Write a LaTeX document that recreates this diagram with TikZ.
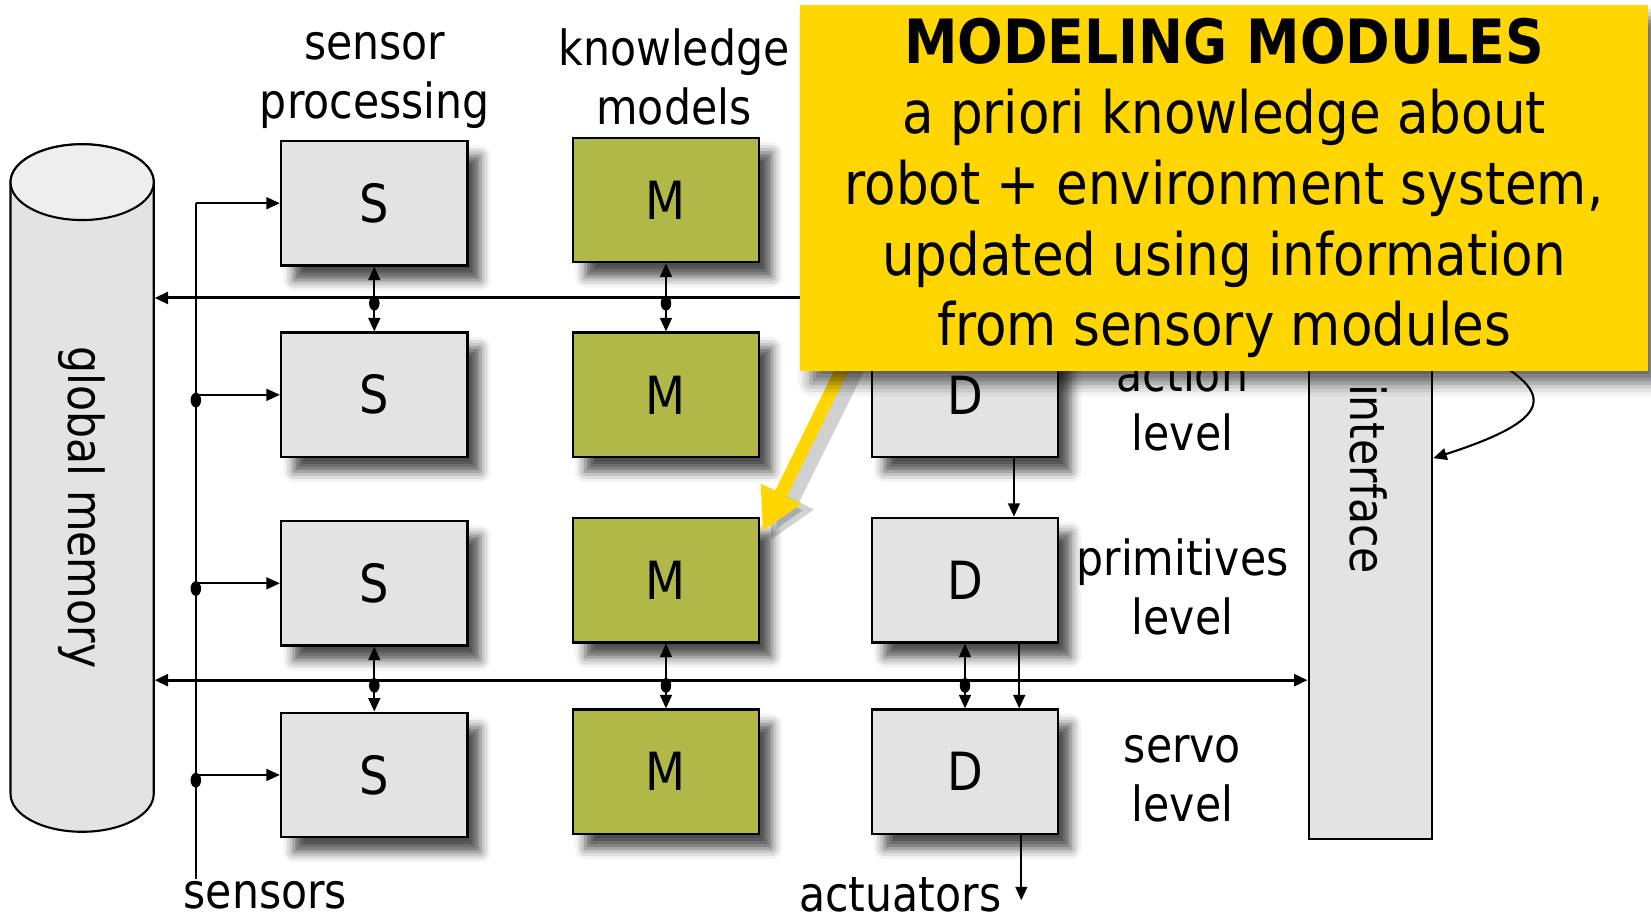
\documentclass[tikz,border=0pt]{standalone}
\usepackage{fontspec}
\setmainfont{DejaVu Sans}[FakeStretch=0.88]
\usetikzlibrary{arrows.meta,shadows.blur}
\definecolor{boxgray}{RGB}{227,227,227}
\definecolor{endgray}{RGB}{238,238,238}
\definecolor{modelgreen}{RGB}{176,185,72}
\definecolor{notegold}{RGB}{255,214,0}

\begin{document}
\begin{tikzpicture}[x=0.25pt,y=-0.25pt,
  >={Triangle[length=3.2pt,width=2.8pt]},
  unit/.style={draw,line width=0.6pt,fill=boxgray,minimum width=44.25pt,minimum height=29.5pt,inner sep=0pt,
    font=\fontsize{12.5}{15}\selectfont,
    blur shadow={shadow xshift=3pt,shadow yshift=-3.5pt,shadow blur radius=2.5pt,shadow opacity=70}},
  model/.style={unit,fill=modelgreen},
  lbl/.style={align=center,font=\fontsize{11.5}{14}\selectfont},
  wire/.style={line width=0.5pt},
  bus/.style={line width=0.7pt}]
\useasboundingbox (0,0) rectangle (1568,874);

% global memory
\node[minimum width=34pt,minimum height=163.25pt,inner sep=0pt] (mem) at (78,463.5) {};
\filldraw[fill=boxgray,line width=0.5pt] (10,173) -- (10,754) arc[start angle=180,end angle=0,x radius=68,y radius=36]
   -- (146,173) arc[start angle=0,end angle=-180,x radius=68,y radius=36] -- cycle;
\filldraw[fill=endgray,line width=0.5pt] (78,173) ellipse [x radius=68,y radius=36];
\node[lbl,rotate=-90] (memtxt) at (78,482) {global memory};

% modules
\foreach \i/\y in {1/193,2/375,3/554,4/736} {
   \node[unit] (S\i) at (355.5,\y) {S};
}
\foreach \i/\y in {1/190,2/375,3/551,4/733} {
   \node[model] (M\i) at (632.5,\y) {M};
}
\foreach \i/\y in {2/375,3/551,4/733} {
   \node[unit] (D\i) at (916.5,\y) {D};
}
\node[draw,line width=0.6pt,fill=boxgray,minimum width=29.25pt,minimum height=141.75pt,inner sep=0pt] (iface) at (1301.5,513.5) {};
\node[lbl,rotate=-90] (ifacetxt) at (1300,455) {interface};

% labels
\node[lbl] (lsp) at (356,76) {sensor\\processing};
\node[lbl] (lkm) at (640,73) {knowledge\\models};
\node[lbl] (lact) at (1123,383) {action\\level};
\node[lbl] (lprim) at (1123,557) {primitives\\level};
\node[lbl] (lservo) at (1123,740) {servo\\level};
\node[lbl] (lsens) at (252,850) {sensors};
\node[lbl] (lactu) at (855,850) {actuators};

% sensor lines
\coordinate (sTop) at (186,193);
\coordinate (sBot) at (186,835);
\draw[wire] (sTop) -- (sBot);
\draw[wire,->] (sTop) -- (S1.west);
\foreach \i in {2,3,4} {
   \fill (S\i.west -| sTop) ++(0,5) ellipse [x radius=5,y radius=7];
   \draw[wire,->] (S\i.west -| sTop) -- (S\i.west);
}

% buses
\coordinate (busT) at (950,283);
\coordinate (busB) at (600,646);
\draw[bus,->] (busT) -- (mem.east |- busT);
\draw[bus,<->] (mem.east |- busB) -- (iface.west |- busB);
\foreach \c in {S,M} {
   \draw[wire,<->] (\c1.south) -- (\c2.north);
   \fill (\c1.south |- 0,288) ellipse [x radius=5,y radius=7];
   \draw[wire,<->] (\c3.south) -- (\c4.north);
   \fill (\c3.south |- 0,651) ellipse [x radius=5,y radius=7];
}
\draw[wire,<->] (D3.south) -- (D4.north);
\fill (D3.south |- 0,651) ellipse [x radius=5,y radius=7];
\draw[wire,->] (D2.south -| 963,0) -- (D3.north -| 963,0);
\draw[wire,->] (D3.south -| 968,0) -- (D4.north -| 968,0);
\coordinate (act) at (970,855);
\draw[wire,->] (D4.south -| act) -- (act);

% operator input
\coordinate (ctrlIn) at (1405,335);
\draw[wire,->] (ctrlIn) .. controls (1485,375) and (1470,400) .. (iface.east |- D2.south);

% callout
\coordinate (noteTail) at (805,340);
\draw[line width=4pt,black,opacity=0.18,-{Triangle[length=11pt,width=11pt]}] ([shift={(8,10)}]noteTail) -- ([shift={(10,22)}]M3.north east);
\draw[line width=3.1pt,notegold,-{Triangle[length=10pt,width=10pt]}] (noteTail) -- ([shift={(2,14)}]M3.north east);
\node[fill=notegold,minimum width=201.25pt,minimum height=86.75pt,inner sep=0pt,align=center,
  font=\fontsize{13.9}{16.75}\selectfont,
  blur shadow={shadow xshift=2.5pt,shadow yshift=-3pt,shadow blur radius=3pt,shadow opacity=60}] (note) at (1162.5,178.5)
  {{\fontsize{14.5}{16.75}\selectfont\bfseries MODELING MODULES}\\a priori knowledge about\\robot + environment system,\\updated using information\\from sensory modules};
\end{tikzpicture}
\end{document}
